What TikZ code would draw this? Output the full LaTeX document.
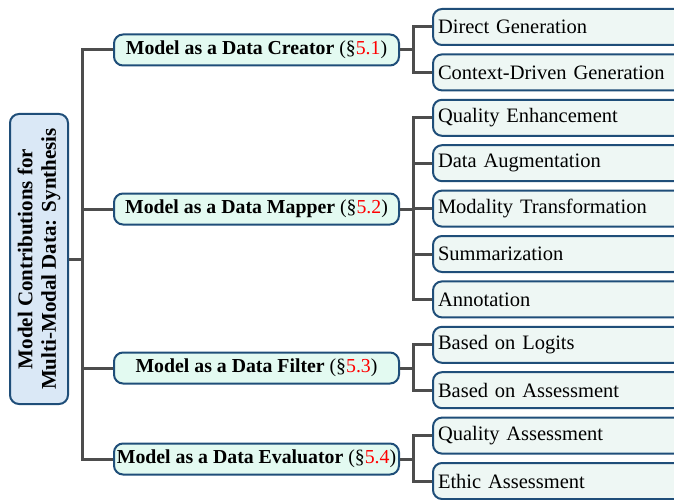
\documentclass[tikz,border=0pt]{standalone}
\usepackage{fontspec}
\setmainfont{Liberation Serif}
\usetikzlibrary{positioning}

\definecolor{boxblue}{HTML}{1F4E79}
\definecolor{rootfill}{HTML}{DAE8F6}
\definecolor{catfill}{HTML}{E3FAF1}
\definecolor{leaffill}{HTML}{EEF7F4}
\definecolor{linkgray}{HTML}{4D4D4D}

\newcommand{\boxfont}{\fontsize{20.5}{23}\selectfont}

\tikzstyle{rootNode} = [rectangle, rounded corners=9pt, draw=boxblue, line width=2pt, fill=rootfill, rotate=90, align=center, font=\fontsize{21}{23.5}\selectfont\bfseries, minimum width=290pt, minimum height=58pt, inner sep=2pt]
\tikzstyle{catNode} = [rectangle, rounded corners=9pt, draw=boxblue, line width=2pt, fill=catfill, font=\fontsize{19.8}{23}\selectfont\bfseries, minimum width=285pt, minimum height=31pt, inner sep=2pt]
\tikzstyle{leafNode} = [rectangle, rounded corners=9pt, draw=boxblue, line width=2pt, fill=leaffill, font=\boxfont, text width=246pt, align=left, minimum height=36pt, inner xsep=5pt, inner ysep=2pt]
\tikzstyle{link} = [line width=3pt, draw=linkgray]

\newcommand{\secref}[1]{{\mdseries(\S\textcolor{red}{#1})}}

\begin{document}
\begin{tikzpicture}[x=1pt, y=-1pt, node distance=45.4pt]
    \useasboundingbox (0,0) rectangle (674,500);
    \clip (0,0) rectangle (674,500);

    \node (root)[rootNode] at (39,259) {Model Contributions for \\ Multi-Modal Data: Synthesis};

    \node (creator)[catNode] at (256.5,50) {Model as a Data Creator \secref{5.1}};
    \node (mapper)[catNode] at (256.5,209) {Model as a Data Mapper \secref{5.2}};
    \node (filter)[catNode] at (256.5,368) {Model as a Data Filter \secref{5.3}};
    \node (evaluator)[catNode] at (256.5,459) {Model as a Data Evaluator \secref{5.4}};

    \node (direct)[leafNode] at (561,27) {Direct Generation};
    \node (context)[leafNode, below of=direct] {Context-Driven Generation};
    \node (quality)[leafNode, below of=context] {Quality Enhancement};
    \node (augment)[leafNode, below of=quality] {Data Augmentation};
    \node (modality)[leafNode, below of=augment] {Modality Transformation};
    \node (summary)[leafNode, below of=modality] {Summarization};
    \node (annot)[leafNode, below of=summary] {Annotation};
    \node (logits)[leafNode, below of=annot] {Based on Logits};
    \node (basedassess)[leafNode, below of=logits] {Based on Assessment};
    \node (qualassess)[leafNode, below of=basedassess] {Quality Assessment};
    \node (ethic)[leafNode, below of=qualassess] {Ethic Assessment};

    \draw [link] (root.south) -- +(13,0) |- (creator.west);
    \draw [link] (root.south) -- +(13,0) |- (mapper.west);
    \draw [link] (root.south) -- +(13,0) |- (filter.west);
    \draw [link] (root.south) -- +(13,0) |- (evaluator.west);

    \draw [link] (creator.east) -- +(13,0) |- (direct.west);
    \draw [link] (creator.east) -- +(13,0) |- (context.west);
    \draw [link] (mapper.east) -- +(13,0) |- (quality.west);
    \draw [link] (mapper.east) -- +(13,0) |- (augment.west);
    \draw [link] (mapper.east) -- +(13,0) |- (modality.west);
    \draw [link] (mapper.east) -- +(13,0) |- (summary.west);
    \draw [link] (mapper.east) -- +(13,0) |- (annot.west);
    \draw [link] (filter.east) -- +(13,0) |- (logits.west);
    \draw [link] (filter.east) -- +(13,0) |- (basedassess.west);
    \draw [link] (evaluator.east) -- +(13,0) |- (qualassess.west);
    \draw [link] (evaluator.east) -- +(13,0) |- (ethic.west);

\end{tikzpicture}
\end{document}
